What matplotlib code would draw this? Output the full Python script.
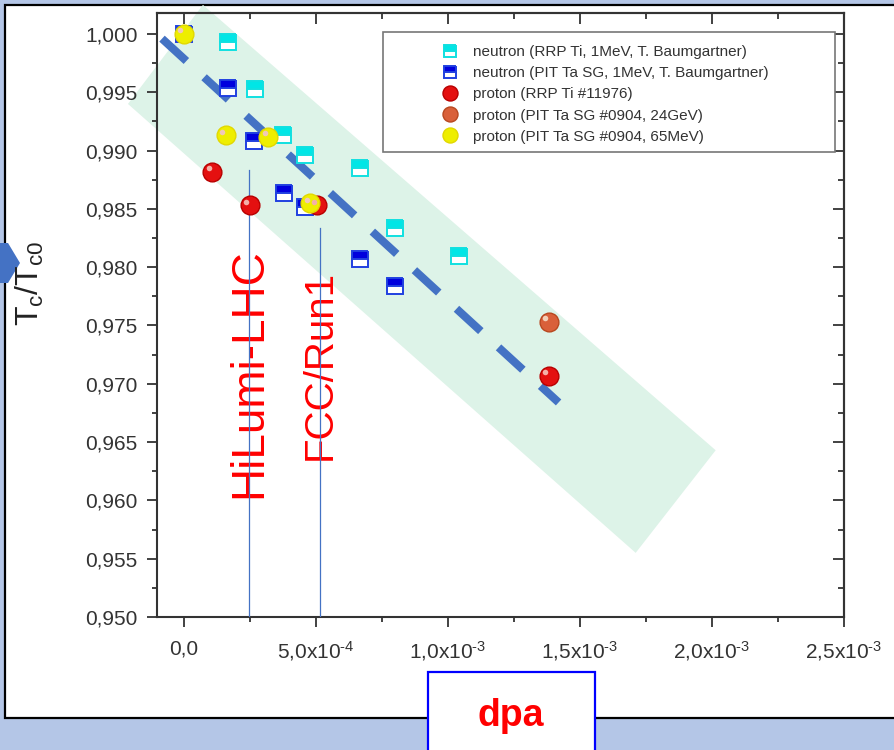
import matplotlib.pyplot as plt
from matplotlib.patches import Rectangle, Polygon
from matplotlib.ticker import MultipleLocator, FixedLocator, FixedFormatter, FuncFormatter
from matplotlib.transforms import offset_copy

plt.rcParams['font.family'] = ['Liberation Sans', 'DejaVu Sans']
plt.rcParams['mathtext.fontset'] = 'custom'
plt.rcParams['mathtext.rm'] = 'Liberation Sans'
plt.rcParams['mathtext.it'] = 'Liberation Sans'
plt.rcParams['mathtext.default'] = 'regular'

# --- data ---
n_rrp_x = [1.67e-4, 2.69e-4, 3.76e-4, 4.59e-4, 6.68e-4, 8.0e-4, 1.04e-3]
n_rrp_y = [0.9993, 0.9953, 0.9913, 0.9896, 0.9885, 0.9834, 0.9810]
n_pit_x = [0.0, 1.67e-4, 2.65e-4, 3.80e-4, 4.60e-4, 6.68e-4, 8.0e-4]
n_pit_y = [1.000, 0.9954, 0.9908, 0.9864, 0.9852, 0.9807, 0.9784]
p_rrp_x = [1.07e-4, 2.50e-4, 5.05e-4, 1.381e-3]
p_rrp_y = [0.9882, 0.9853, 0.9853, 0.9707]
p_24_x = [1.381e-3]
p_24_y = [0.9753]
p_65_x = [0.0, 1.59e-4, 3.19e-4, 4.78e-4]
p_65_y = [1.000, 0.9913, 0.9912, 0.9855]

trend_x = [-8.3e-5, 1.419e-3]
trend_y = [0.9996, 0.9684]
band_x = [7.2e-5, -2.12e-4, 1.711e-3, 2.014e-3]
band_y = [1.0025, 0.9940, 0.9555, 0.9643]

marks = ['HiLumi-LHC', 'FCC/Run1']
marks_x = [2.47e-4, 5.16e-4]
marks_top = [0.9883, 0.9834]

labels = ['neutron (RRP Ti, 1MeV, T. Baumgartner)',
          'neutron (PIT Ta SG, 1MeV, T. Baumgartner)',
          'proton (RRP Ti #11976)',
          'proton (PIT Ta SG #0904, 24GeV)',
          'proton (PIT Ta SG #0904, 65MeV)']
xticks = [0.0, 5e-4, 1e-3, 1.5e-3, 2e-3, 2.5e-3]
xtick_labels = ['0,0', r'5,0x10$^{\text{-}4}$', r'1,0x10$^{\text{-}3}$', r'1,5x10$^{\text{-}3}$',
                r'2,0x10$^{\text{-}3}$', r'2,5x10$^{\text{-}3}$']

W, H = 895, 750
fig = plt.figure(figsize=(W / 100, H / 100), dpi=100)
fig.patch.set_facecolor('#B4C6E7')


def fx(px):
    return px / W


def fy(py):
    return 1 - py / H


# white slide panel
fig.add_artist(Rectangle((fx(5), fy(718)), 1.0, (718 - 5) / H, transform=fig.transFigure,
                         facecolor='white', edgecolor='black', lw=1.6, zorder=-2))
# little arrow on the left
fig.add_artist(Polygon([(fx(-2), fy(243)), (fx(8), fy(243)), (fx(20), fy(263)),
                        (fx(8), fy(283)), (fx(-2), fy(283))], closed=True,
                       transform=fig.transFigure, facecolor='#4472C4', edgecolor='none', zorder=2))

ax = fig.add_axes([fx(157), fy(617), (844 - 157) / W, (617 - 13) / H])
ax.set_facecolor('none')
ax.set_xlim(-1.02e-4, 2.5e-3)
ax.set_ylim(0.950, 1.0018)

# green band and trend
ax.fill(band_x, band_y, color='#DDF3E8', lw=0, clip_on=False, zorder=0)
lw = 5.8
ax.plot(trend_x, trend_y, color='#4472C4', lw=lw, dash_capstyle='butt',
        linestyle=(0, (23.8 / lw, 17.3 / lw)), zorder=2)

# vertical markers and labels
for name, xv, top, fs, yc in zip(marks, marks_x, marks_top, [33, 29], [0.9709, 0.9716]):
    ax.text(xv, yc, name, rotation=90, ha='center', va='center',
            color='#FF0000', fontsize=fs, zorder=3)
    ax.plot([xv, xv], [0.950, top], color='#4472C4', lw=0.9, zorder=4)

hl = offset_copy(ax.transData, fig=fig, x=-3.5, y=3.5, units='dots')

sq_kw = dict(marker='s', ls='none', fillstyle='top', markerfacecoloralt='white', mew=1.4)
h1, = ax.plot(n_rrp_x, n_rrp_y, ms=11, mfc='#00E6E6', mec='#10E0E0', zorder=5, **sq_kw)
h2, = ax.plot(n_pit_x, n_pit_y, ms=11, mfc='#0000DD', mec='#2040E0', zorder=5, **sq_kw)


def sphere(x, y, face, edge, shine):
    a, = ax.plot(x, y, 'o', ms=13.5, mfc=face, mec=edge, mew=1, zorder=6)
    ax.plot(x, y, 'o', ms=4, mfc=shine, mec='none', zorder=7, transform=hl)
    return a


h3 = sphere(p_rrp_x, p_rrp_y, '#E41010', '#B80000', '#F4B0A8')
h4 = sphere(p_24_x, p_24_y, '#D9603A', '#B84820', '#F2D0B8')
h5 = sphere(p_65_x, p_65_y, '#EEEE00', '#E2D800', '#F0C8B8')

# ticks
ax.xaxis.set_major_locator(FixedLocator(xticks))
ax.xaxis.set_major_formatter(FixedFormatter(xtick_labels))
ax.xaxis.set_minor_locator(MultipleLocator(2.5e-4))
ax.yaxis.set_major_locator(MultipleLocator(0.005))
ax.yaxis.set_minor_locator(MultipleLocator(0.0025))
ax.yaxis.set_major_formatter(FuncFormatter(lambda v, p: ('%.3f' % v).replace('.', ',')))
ax.tick_params(which='both', direction='out', width=1.3, colors='#333333',
               labelsize=15, top=False, right=False)
ax.tick_params(which='major', length=7)
ax.tick_params(which='minor', length=3.5)
ax.tick_params(axis='y', pad=7)
ax.tick_params(axis='x', pad=9)
for s in ax.spines.values():
    s.set_linewidth(1.5)
    s.set_color('#333333')

secx = ax.secondary_xaxis('top')
secx.xaxis.set_major_locator(FixedLocator(xticks))
secx.xaxis.set_minor_locator(MultipleLocator(2.5e-4))
secx.tick_params(which='both', direction='in', width=1.3, colors='#333333', labeltop=False)
secx.tick_params(which='major', length=8)
secx.tick_params(which='minor', length=4)
secy = ax.secondary_yaxis('right')
secy.yaxis.set_major_locator(MultipleLocator(0.005))
secy.yaxis.set_minor_locator(MultipleLocator(0.0025))
secy.tick_params(which='both', direction='in', width=1.3, colors='#333333', labelright=False)
secy.tick_params(which='major', length=8)
secy.tick_params(which='minor', length=4)
for sec in (secx, secy):
    for s in sec.spines.values():
        s.set_linewidth(1.5)
        s.set_color('#333333')

# legend with a hand-drawn frame
ax.add_patch(Rectangle((0.329, 0.770), 0.658, 0.1985, transform=ax.transAxes,
                       facecolor='white', edgecolor='#777777', lw=1.2, zorder=8))
leg = ax.legend([h1, h2, h3, h4, h5], labels, loc='upper left',
                bbox_to_anchor=(0.4154, 0.947), frameon=False, fontsize=11,
                handlelength=1.0, handletextpad=1.0, labelspacing=0.47,
                borderpad=0, borderaxespad=0, markerscale=0.8)
leg.set_zorder(9)
for t in leg.get_texts():
    t.set_color('#333333')

fig.text(fx(30), fy(283), r'T$_c$/T$_{c0}$', rotation=90, ha='center', va='center',
         fontsize=23, color='#222222')

# dpa box at the bottom
fig.add_artist(Rectangle((fx(428), fy(752)), (595 - 428) / W, (752 - 672) / H,
                         transform=fig.transFigure, facecolor='white',
                         edgecolor='#0000FF', lw=1.6, zorder=3))
fig.text(fx(511), fy(716), 'dpa', ha='center', va='center', fontsize=27,
         fontweight='bold', color='#FF0000', zorder=4)

fig.savefig('out.png', dpi=100, facecolor=fig.get_facecolor())
